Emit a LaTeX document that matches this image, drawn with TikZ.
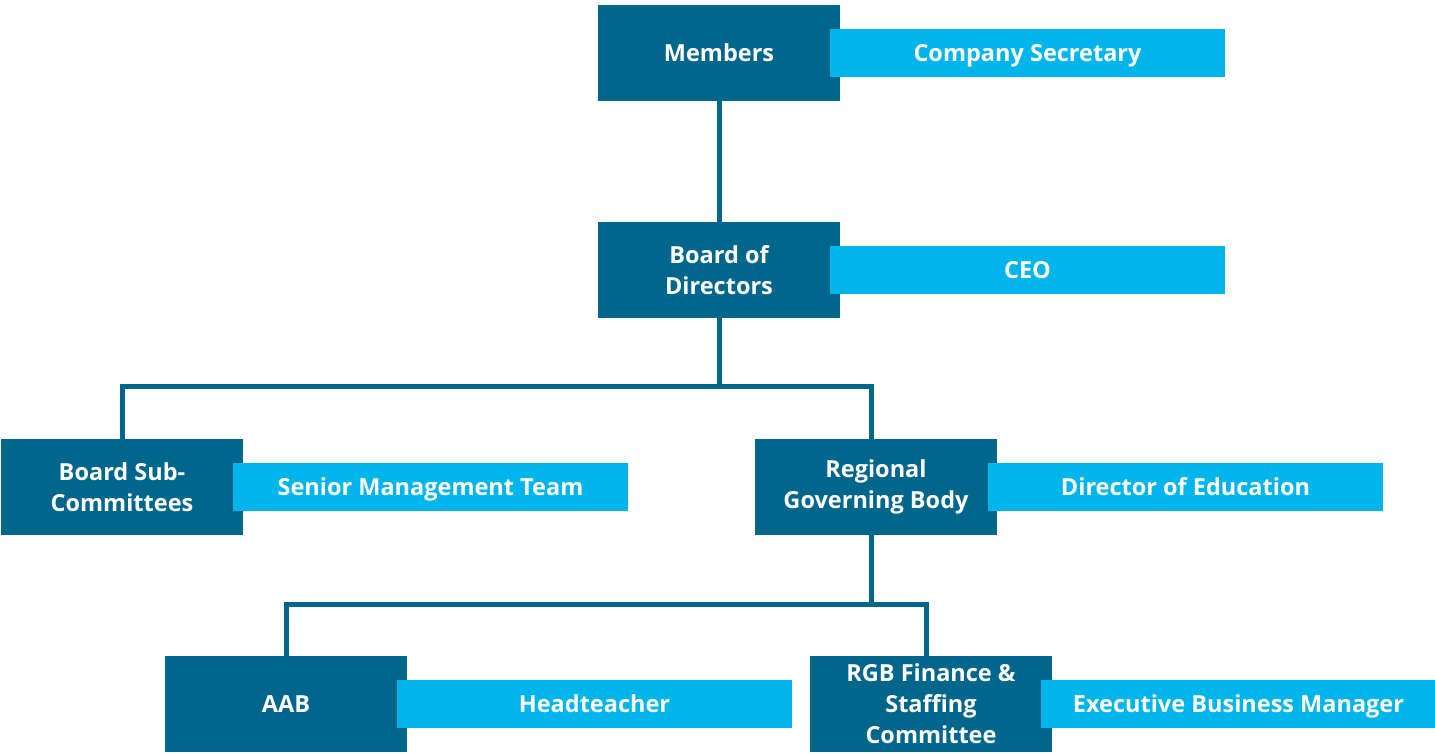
\documentclass[tikz,border=0pt]{standalone}
\usepackage{fontspec}
\setmainfont{Open Sans}
\usetikzlibrary{calc}
\definecolor{govdark}{RGB}{0,102,140}
\definecolor{govlight}{RGB}{0,181,236}
\tikzset{
  govtext/.style={text=white, inner sep=0pt, align=center,
    font=\fontsize{23.5}{31}\selectfont\bfseries},
  govbox/.style={govtext, fill=govdark, minimum width=242, minimum height=96},
  rolebox/.style={govtext, fill=govlight, minimum width=395, minimum height=48,
    text height=17, text depth=0},
  govline/.style={govdark, line width=5}
}

\begin{document}
\begin{tikzpicture}[x=1pt, y=-1pt]
    \useasboundingbox (0,0) rectangle (1435,754);

    % ---- governance bodies
    \node[govbox] (members) at (719,53) {Members};
    \node[govbox] (board) at (719,270) {Board of\\Directors};
    \node[govbox] (subcom) at (122,487) {Board Sub-\\Committees};
    \node[govbox] (rgb) at (876,487) {Regional\\Governing Body};
    \node[govbox] (aab) at (286,704) {AAB};
    \node[govbox] (rgbfin) at (931,704) {RGB Finance \&\\Staffing\\Committee};

    % ---- bus levels of the tree
    \coordinate (busA) at ($(board.south)+(0,68)$);
    \coordinate (busB) at ($(rgb.south)+(-5,69)$);

    % ---- connectors, kept behind the boxes
    \begin{scope}[on background layer/.try]
    \draw[govline] (members.south) -- (board.north);
    \draw[govline] (board.south) -- (busA);
    \draw[govline] (subcom.north) |- (busA) -| ($(rgb.north)+(-5,0)$);
    \draw[govline] ($(rgb.south)+(-5,0)$) -- (busB);
    \draw[govline] (aab.north) |- (busB) -| ($(rgbfin.north)+(-5,0)$);
    \end{scope}

    % ---- officers attached to each body
    \node[rolebox] (secretary) at (1027.5,53) {Company Secretary};
    \node[rolebox] (ceo) at (1027.5,270) {CEO};
    \node[rolebox] (smt) at (430.5,487) {Senior Management Team};
    \node[rolebox] (doe) at (1185.5,487) {Director of Education};
    \node[rolebox] (head) at (594.5,704) {Headteacher};
    \node[rolebox] (ebm) at (1238.5,704) {Executive Business Manager};
\end{tikzpicture}
\end{document}
